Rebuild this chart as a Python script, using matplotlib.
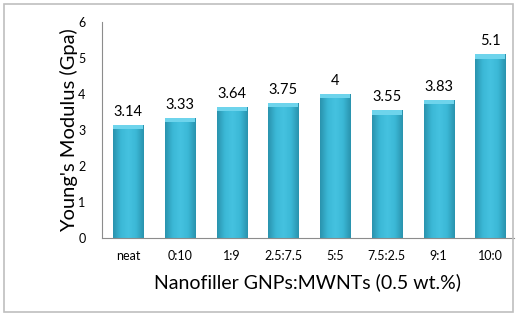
import numpy as np
import matplotlib
matplotlib.use('Agg')
import matplotlib.pyplot as plt
from matplotlib.patches import Rectangle
from matplotlib.colors import LinearSegmentedColormap

plt.rcParams['font.family'] = ['Lato', 'DejaVu Sans']

# 数据
categories = ['neat', '0:10', '1:9', '2.5:7.5', '5:5', '7.5:2.5', '9:1', '10:0']
modulus = [3.14, 3.33, 3.64, 3.75, 4, 3.55, 3.83, 5.1]
value_labels = ['3.14', '3.33', '3.64', '3.75', '4', '3.55', '3.83', '5.1']

fig = plt.figure(figsize=(5.21, 3.16), dpi=100)
ax = fig.add_axes([0.196, 0.247, 0.79, 0.683])

x = np.arange(len(categories))
bars = ax.bar(x, modulus, width=0.58, color='#38B3D1', edgecolor='#2B8FA8',
              linewidth=0.6, zorder=2)

# 横向渐变，模拟立体柱
cmap = LinearSegmentedColormap.from_list(
    'bar', ['#2A93AE', '#3BB8D6', '#45C2E0', '#3BB8D6', '#2A93AE'])
grad = np.linspace(0, 1, 64).reshape(1, -1)
for b in bars:
    x0, w, h = b.get_x(), b.get_width(), b.get_height()
    im = ax.imshow(grad, cmap=cmap, aspect='auto', extent=(x0, x0 + w, 0, h),
                   zorder=2.5)
    im.set_clip_path(b)
    # 顶部高光
    ax.add_patch(Rectangle((x0, h - 0.12), w, 0.12, facecolor='#6ED4EC',
                           edgecolor='none', zorder=3))

for xi, v, s in zip(x, modulus, value_labels):
    ax.text(xi, v + 0.18, s, ha='center', va='bottom', fontsize=10.5, color='black')

ax.set_xlim(-0.5, 7.45)
ax.set_ylim(0, 6)
ax.set_yticks(range(0, 7))
ax.set_xticks(x)
ax.set_xticklabels(categories)
ax.tick_params(axis='both', length=0, labelsize=9, pad=9)
ax.tick_params(axis='y', pad=12)
ax.set_ylabel("Young's Modulus (Gpa)", fontsize=14.5)
ax.yaxis.set_label_coords(-0.058, 0.5)
ax.set_xlabel('Nanofiller GNPs:MWNTs (0.5 wt.%)', fontsize=14, labelpad=8)

for side in ['top', 'right']:
    ax.spines[side].set_visible(False)
for side in ['left', 'bottom']:
    ax.spines[side].set_color('#8C8C8C')
    ax.spines[side].set_linewidth(0.8)

# 外框
fig.patches.append(Rectangle((4 / 521, 4 / 316), 509 / 521, 308 / 316,
                             transform=fig.transFigure, fill=False,
                             edgecolor='#BFBFBF', linewidth=1.2))

fig.savefig('out.png', dpi=100)
